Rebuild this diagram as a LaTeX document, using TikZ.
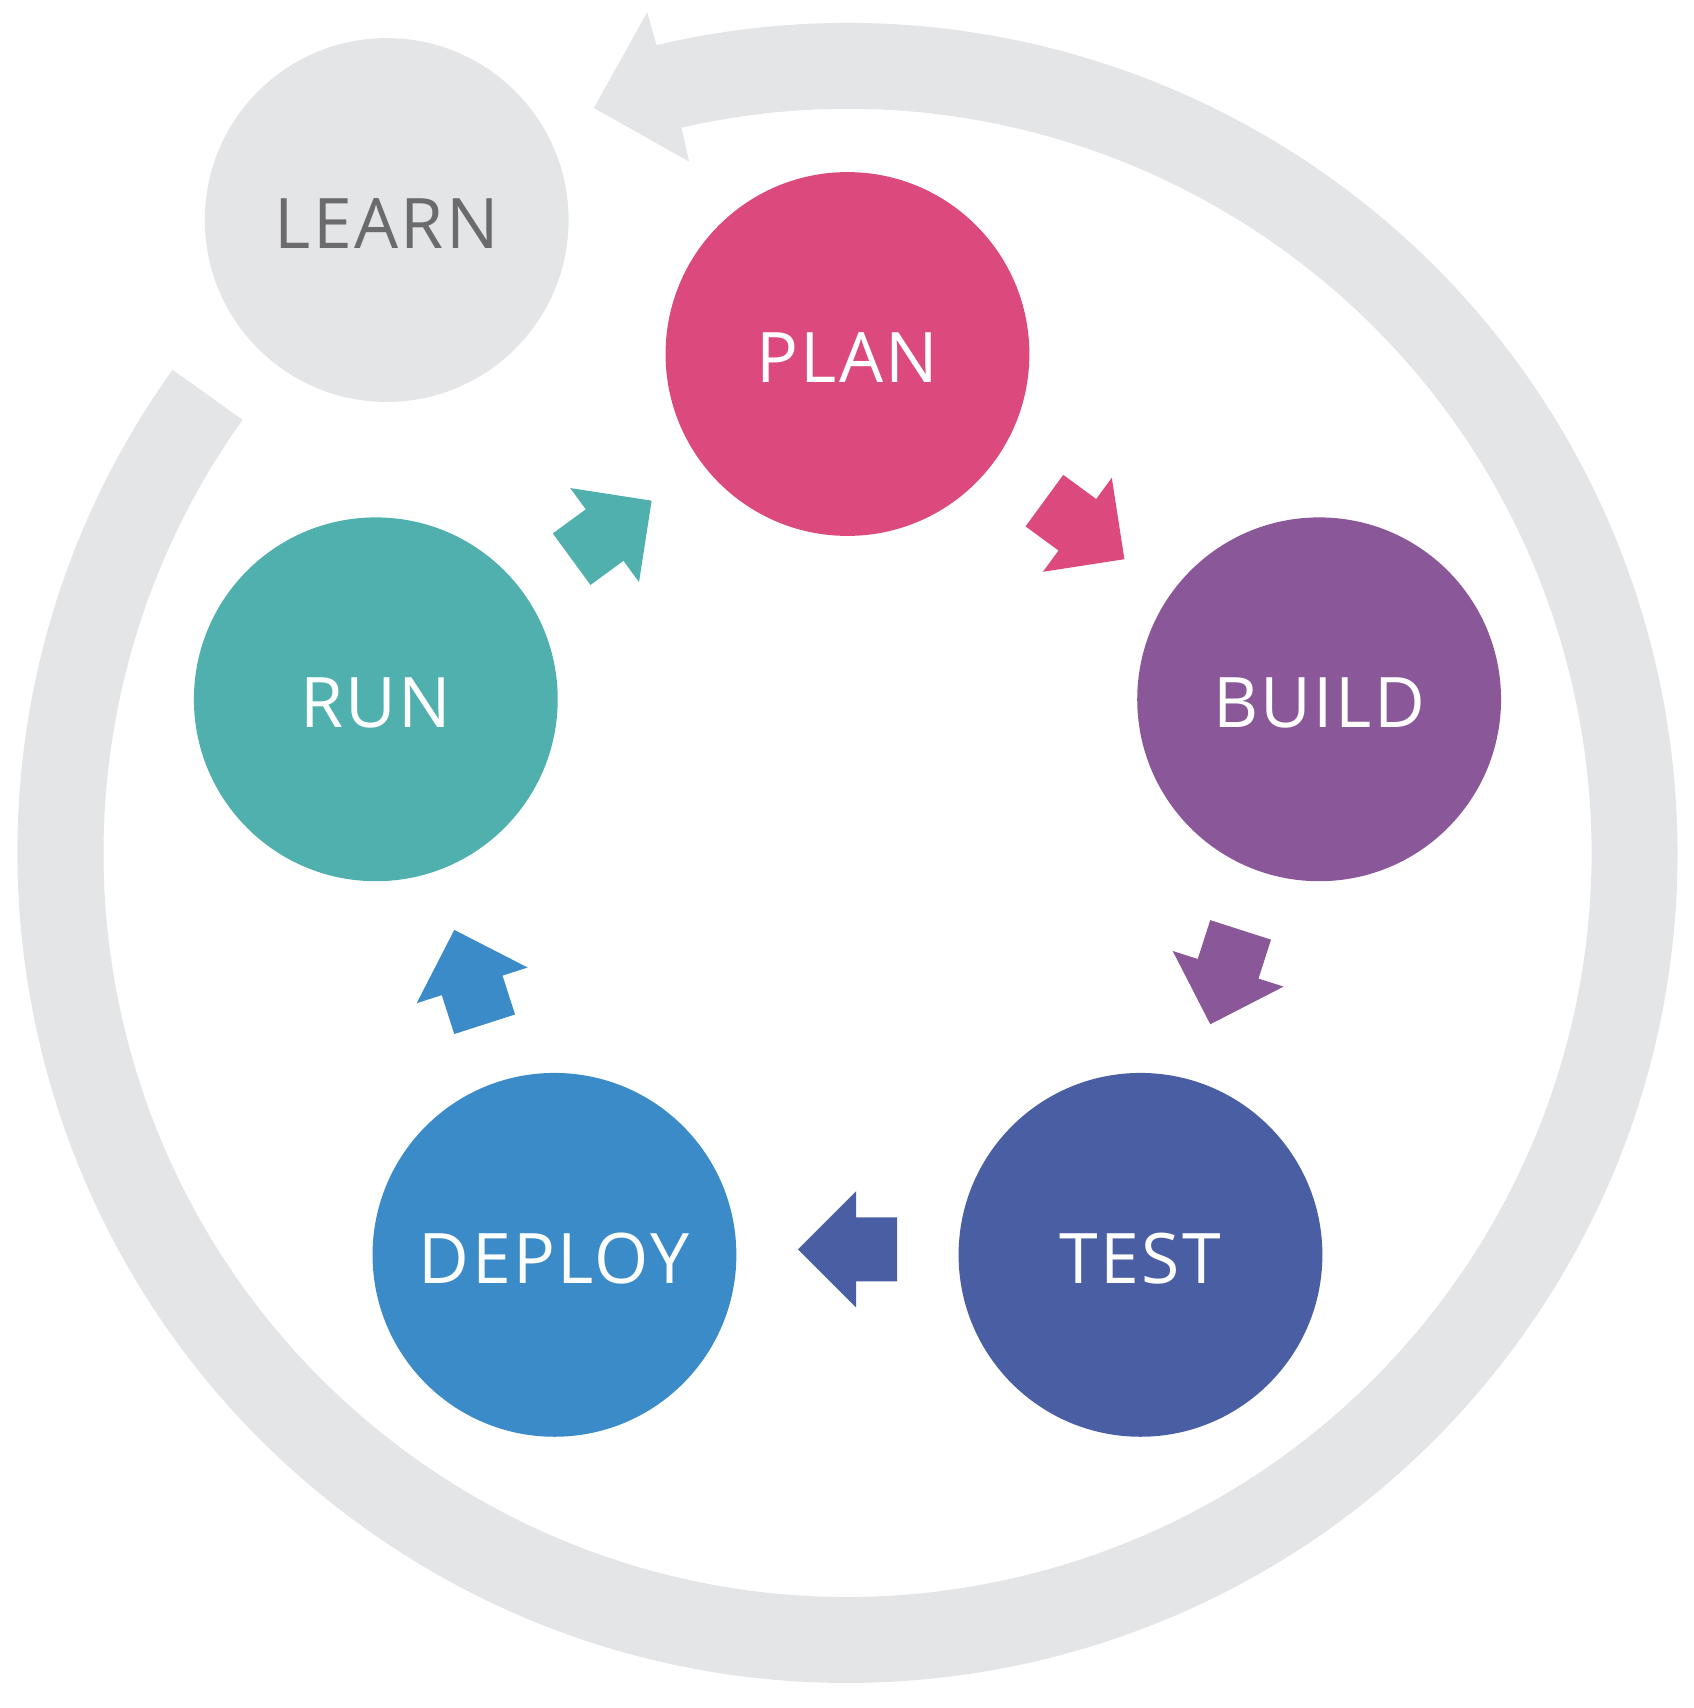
\documentclass[tikz,border=0pt]{standalone}
\usepackage{fontspec}
\setmainfont{Open Sans}
\usetikzlibrary{calc}
\definecolor{ringg}{HTML}{E4E5E7}
\definecolor{learntxt}{HTML}{6B6B6D}
\definecolor{planc}{HTML}{DC4A7D}
\definecolor{buildc}{HTML}{8A5899}
\definecolor{testc}{HTML}{4A5FA3}
\definecolor{deployc}{HTML}{3A8BC7}
\definecolor{runc}{HTML}{4FB0AE}
\begin{document}
\begin{tikzpicture}[x=1pt,y=1pt,
  stage/.style={circle, minimum size=334pt, inner sep=0pt, draw=none, text=white,
    text height=52pt, text depth=0pt,
    font=\fontsize{64}{64}\selectfont\addfontfeatures{LetterSpace=3.5}},
  blockarrow/.pic={\fill[pic actions] (-45.5,-29.3) -- (-8,-29.3) -- (-8,-53.5) -- (45.5,0)
     -- (-8,53.5) -- (-8,29.3) -- (-45.5,29.3) -- cycle;}]
\useasboundingbox (0,0) rectangle (1555,1568);
\coordinate (c) at (778,785);
% big return ring
\fill[ringg] ($(c)+(144.4:762)$) arc[start angle=144.4, end angle=463.3, radius=762]
  -- ($(c)+(103.4:793.3)$) -- ($(c)+(108.8:722.5)$) -- ($(c)+(102.9:651)$)
  -- ($(c)+(462.9:683)$) arc[start angle=462.9, end angle=144.4, radius=683] -- cycle;
% stages
\node[stage, fill=ringg, text=learntxt] (learn) at (355,1366) {LEARN};
\node[stage, fill=planc] (plan) at (778,1243) {PLAN};
\node[stage, fill=buildc] (build) at (1211,926) {BUILD};
\node[stage, fill=testc] (test) at (1047,416) {TEST};
\node[stage, fill=deployc] (deploy) at (509,416) {DEPLOY};
\node[stage, fill=runc] (run) at (345,926) {RUN};
% block arrows between stages
\path let \p1=($(build)-(plan)$), \n1={atan2(\y1,\x1)} in
  ($(plan)!0.5!(build)+(1,-3)$) pic[rotate=\n1, fill=planc] {blockarrow};
\path let \p1=($(test)-(build)$), \n1={atan2(\y1,\x1)} in
  ($(build)!0.5!(test)+(-4,0)$) pic[rotate=\n1, fill=buildc] {blockarrow};
\path let \p1=($(deploy)-(test)$), \n1={atan2(\y1,\x1)} in
  ($(test)!0.5!(deploy)+(0,5)$) pic[rotate=\n1, fill=testc] {blockarrow};
\path let \p1=($(run)-(deploy)$), \n1={atan2(\y1,\x1)} in
  ($(deploy)!0.5!(run)+(4,0)$) pic[rotate=\n1, fill=deployc] {blockarrow};
\path let \p1=($(plan)-(run)$), \n1={atan2(\y1,\x1)} in
  ($(run)!0.5!(plan)+(0,-3)$) pic[rotate=\n1, fill=runc] {blockarrow};
\end{tikzpicture}
\end{document}
